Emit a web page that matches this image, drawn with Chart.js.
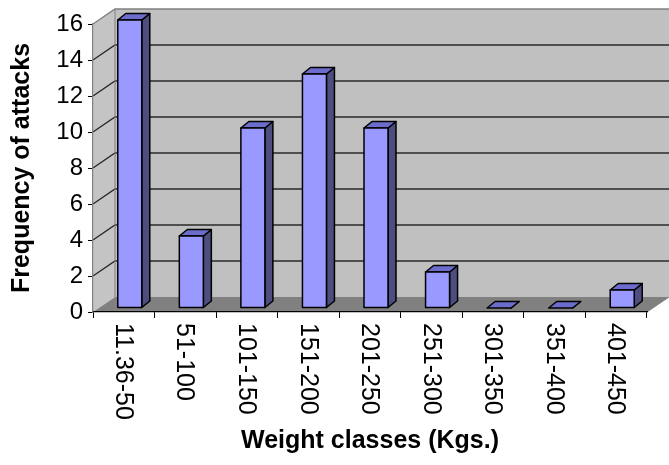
<!DOCTYPE html>
<html>
<head>
<meta charset="utf-8">
<title>Weight classes</title>
<script src="https://cdn.jsdelivr.net/npm/chart.js@4/dist/chart.umd.min.js"></script>
<style>
    html, body { margin: 0; padding: 0; background: #ffffff; }
    #chart { display: block; }
</style>
</head>
<body>
<canvas id="chart" width="669" height="465"></canvas>
<script>
var weightClasses = ['11.36-50', '51-100', '101-150', '151-200', '201-250', '251-300', '301-350', '351-400', '401-450'];
var attacks = [16, 4, 10, 13, 10, 2, 0, 0, 1];
var yTicks = [0, 2, 4, 6, 8, 10, 12, 14, 16];

var fontFamily = 'Arial, "Liberation Sans", sans-serif';

// depth of the floor / walls and of each bar (px)
var DEPTH_X = 22, DEPTH_Y = -15;
var BAR_SHIFT_X = 6, BAR_SHIFT_Y = -4;
var BAR_DEPTH_X = 8, BAR_DEPTH_Y = -6.5;

function poly(ctx, pts, fill, stroke, lw) {
    ctx.beginPath();
    ctx.moveTo(pts[0][0], pts[0][1]);
    for (let i = 1; i < pts.length; i++) {
        ctx.lineTo(pts[i][0], pts[i][1]);
    }
    ctx.closePath();
    if (fill) {
        ctx.fillStyle = fill;
        ctx.fill();
    }
    if (stroke) {
        ctx.strokeStyle = stroke;
        ctx.lineWidth = lw || 1;
        ctx.stroke();
    }
}

var box3d = {
    id: 'box3d',
    beforeDraw: function(chart) {
        const ctx = chart.ctx;
        const a = chart.chartArea;
        const y = chart.scales.y;
        ctx.save();
        // left wall
        poly(ctx, [[a.left, a.bottom], [a.left, a.top], [a.left + DEPTH_X, a.top + DEPTH_Y], [a.left + DEPTH_X, a.bottom + DEPTH_Y]], '#c4c4c4');
        // back wall
        poly(ctx, [[a.left + DEPTH_X, a.top + DEPTH_Y], [a.right + DEPTH_X, a.top + DEPTH_Y], [a.right + DEPTH_X, a.bottom + DEPTH_Y], [a.left + DEPTH_X, a.bottom + DEPTH_Y]], '#c0c0c0');
        // floor
        poly(ctx, [[a.left, a.bottom], [a.right, a.bottom], [a.right + DEPTH_X, a.bottom + DEPTH_Y], [a.left + DEPTH_X, a.bottom + DEPTH_Y]], '#808080');

        // gridlines on both walls
        ctx.lineWidth = 1.4;
        y.ticks.forEach(t => {
            const py = y.getPixelForValue(t.value);
            if (t.value === 0) return;
            ctx.strokeStyle = t.value === y.max ? '#808080' : '#2a2a2a';
            ctx.beginPath();
            ctx.moveTo(a.left, py);
            ctx.lineTo(a.left + DEPTH_X, py + DEPTH_Y);
            ctx.lineTo(a.right + DEPTH_X, py + DEPTH_Y);
            ctx.stroke();
        });
        // edges of the walls
        ctx.strokeStyle = '#808080';
        ctx.lineWidth = 1;
        ctx.beginPath();
        ctx.moveTo(a.left + DEPTH_X, a.top + DEPTH_Y);
        ctx.lineTo(a.left + DEPTH_X, a.bottom + DEPTH_Y);
        ctx.moveTo(a.right, a.bottom);
        ctx.lineTo(a.right + DEPTH_X, a.bottom + DEPTH_Y);
        ctx.stroke();
        ctx.restore();
    },
    beforeDatasetDraw: function() {
        return false;
    },
    afterDatasetsDraw: function(chart) {
        const ctx = chart.ctx;
        const ds = chart.data.datasets[0];
        ctx.save();
        ctx.lineJoin = 'round';
        chart.getDatasetMeta(0).data.forEach(bar => {
            const p = bar.getProps(['x', 'y', 'base', 'width'], true);
            const xl = p.x - p.width / 2 + BAR_SHIFT_X;
            const xr = p.x + p.width / 2 + BAR_SHIFT_X;
            const yt = p.y + BAR_SHIFT_Y;
            const yb = p.base + BAR_SHIFT_Y;
            // side
            poly(ctx, [[xr, yt], [xr + BAR_DEPTH_X, yt + BAR_DEPTH_Y], [xr + BAR_DEPTH_X, yb + BAR_DEPTH_Y], [xr, yb]], ds.sideColor, '#000', 1.5);
            // top
            poly(ctx, [[xl, yt], [xl + BAR_DEPTH_X, yt + BAR_DEPTH_Y], [xr + BAR_DEPTH_X, yt + BAR_DEPTH_Y], [xr, yt]], ds.topColor, '#000', 1.5);
            // front
            if (yb - yt > 0.5) {
                poly(ctx, [[xl, yt], [xr, yt], [xr, yb], [xl, yb]], ds.backgroundColor, '#000', 1.5);
            }
        });
        ctx.restore();
    },
    afterDraw: function(chart) {
        // category labels, turned to read top to bottom
        const ctx = chart.ctx;
        const x = chart.scales.x;
        ctx.save();
        ctx.fillStyle = '#000';
        ctx.font = '25px ' + fontFamily;
        ctx.textAlign = 'left';
        ctx.textBaseline = 'middle';
        chart.data.labels.forEach((label, i) => {
            ctx.save();
            ctx.translate(x.getPixelForValue(i), chart.chartArea.bottom + 11);
            ctx.rotate(Math.PI / 2);
            ctx.fillText(label, 0, 1);
            ctx.restore();
        });
        ctx.restore();
    }
};

new Chart(document.getElementById('chart'), {
    type: 'bar',
    data: {
        labels: weightClasses,
        datasets: [{
            data: attacks,
            backgroundColor: '#9999ff',
            sideColor: '#4d4d80',
            topColor: '#6c6ccc',
            categoryPercentage: 1,
            barPercentage: 0.39
        }]
    },
    options: {
        responsive: false,
        animation: false,
        events: [],
        layout: {
            padding: { top: 24, right: 22, left: 0, bottom: 0 }
        },
        plugins: {
            legend: { display: false },
            tooltip: { enabled: false }
        },
        scales: {
            x: {
                offset: true,
                afterFit: function(scale) { scale.height = 153; },
                grid: {
                    offset: true,
                    drawOnChartArea: false,
                    tickLength: 6,
                    color: '#000',
                    lineWidth: 1
                },
                border: { color: '#000', width: 1.2 },
                ticks: { display: false },
                title: {
                    display: true,
                    text: 'Weight classes (Kgs.)',
                    color: '#000',
                    font: { family: fontFamily, size: 25, weight: 'bold' },
                    padding: { top: 0, bottom: 9 }
                }
            },
            y: {
                min: yTicks[0],
                max: yTicks[yTicks.length - 1],
                afterFit: function(scale) { scale.width = 93; },
                afterBuildTicks: function(scale) {
                    scale.ticks = yTicks.map(v => ({ value: v }));
                },
                grid: {
                    drawOnChartArea: false,
                    tickLength: 5,
                    color: '#000',
                    lineWidth: 1
                },
                border: { color: '#808080', width: 1.2 },
                ticks: {
                    color: '#000',
                    padding: 5,
                    font: { family: fontFamily, size: 24 }
                },
                title: {
                    display: true,
                    text: 'Frequency of attacks',
                    color: '#000',
                    font: { family: fontFamily, size: 25, weight: 'bold' },
                    padding: { top: 7, bottom: 0 }
                }
            }
        }
    },
    plugins: [box3d]
});
</script>
</body>
</html>
